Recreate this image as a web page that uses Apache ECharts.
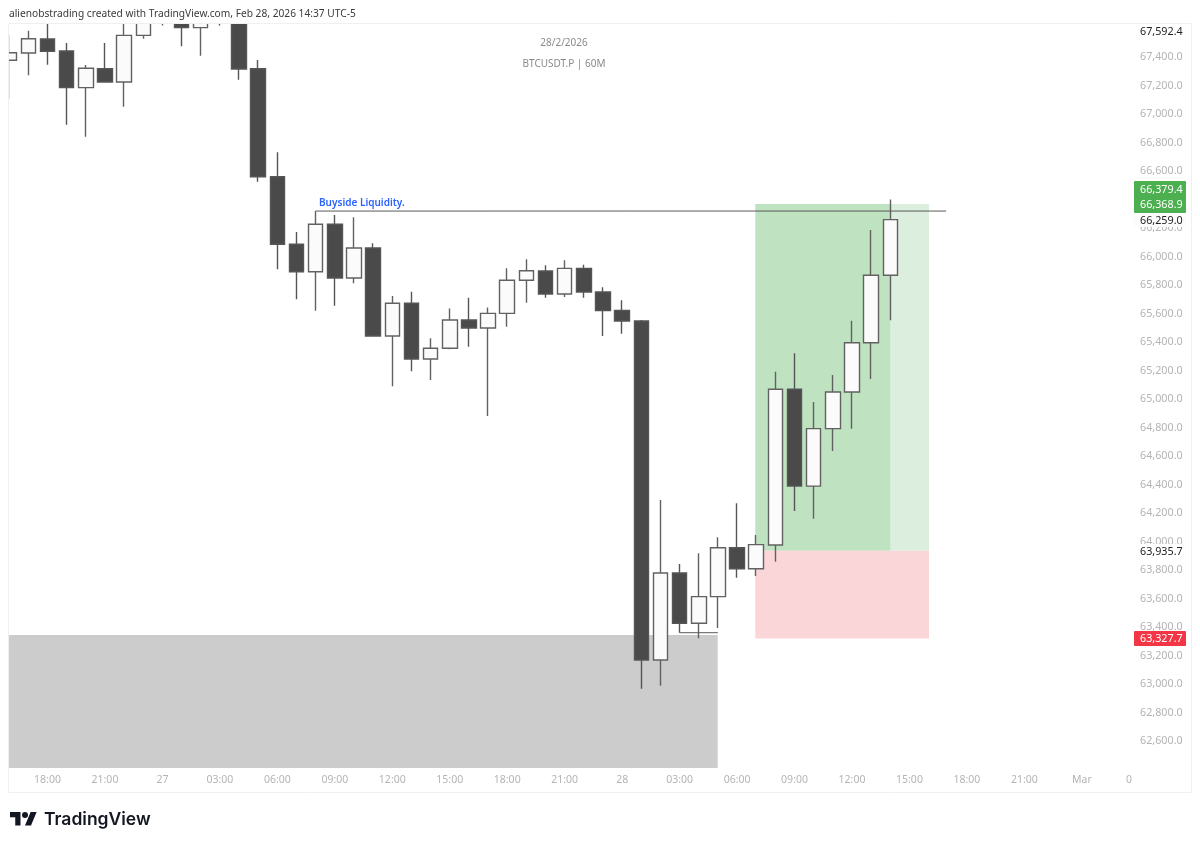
<!DOCTYPE html>
<html><head><meta charset="utf-8">
<style>html,body{margin:0;padding:0;background:#fff}#c{width:1200px;height:845px}</style>
<script src="https://cdn.jsdelivr.net/npm/echarts@6/dist/echarts.min.js"></script>
</head><body><div id="c"></div>
<script>
// hours counted from Feb 26 00:00; [hour, open, close, low, high]
const candleHours=[16,17,18,19,20,21,22,23,24,25,26,27,28,29,30,31,32,33,34,35,36,37,38,39,40,41,42,43,44,45,46,47,48,49,50,51,52,53,54,55,56,57,58,59,60,61,62];
const opens =[67377,67428,67526,67442,67185,67318,67225,67552,67800,67720,67606,67900,67750,67318,66560,66086,65893,66226,65849,66060,65442,65672,65281,65356,65554,65498,65601,65833,65898,65737,65917,65751,65622,65547,63168,63779,63426,63613,63956,63809,63975,65068,64389,64792,65049,65395,65868];
const closes=[67430,67528,67440,67185,67321,67225,67552,67800,67880,67606,67750,67780,67316,66560,66086,65893,66226,65849,66060,65442,65672,65281,65356,65554,65498,65601,65833,65900,65737,65917,65751,65620,65547,63168,63779,63426,63613,63956,63809,63978,65068,64389,64792,65049,65395,65868,66259];
const lows  =[67103,67272,67346,66925,66841,67220,67051,67528,67621,67475,67409,67621,67241,66525,65910,65700,65620,65655,65812,65437,65089,65194,65133,65350,65367,64881,65507,65676,65711,65716,65711,65442,65458,62967,62988,63360,63321,63393,63746,63758,63858,64214,64160,64635,64792,65140,65552];
const highs =[67554,67585,67640,67498,67344,67498,67680,67900,67950,67800,67850,67950,67850,67379,66731,66172,66319,66291,66275,66093,65723,65753,65426,65636,65711,65643,65917,65980,65938,65973,65942,65784,65693,65555,64291,63842,63917,64030,64268,64046,65192,65321,64979,65168,65550,66186,66400];

const yTicks=[62600,62800,63000,63200,63400,63600,63800,64000,64200,64400,64600,64800,65000,65200,65400,65600,65800,66000,66200,66400,66600,66800,67000,67200,67400];
const xTickHours=[18,21,24,27,30,33,36,39,42,45,48,51,54,57,60,63,66,69,72];
const xTickLabels=['18:00','21:00','27','03:00','06:00','09:00','12:00','15:00','18:00','21:00','28','03:00','06:00','09:00','12:00','15:00','18:00','21:00','Mar'];

const buysideLine=[[32,66319],[64.91,66319]];
const sweepLine=[[51,63360],[53,63360]];
const tradeStart=54.95, tradeNow=62.02, tradeEnd=64.02;
const targetPrice=66368.9, entryPrice=63935.7, stopEdge=63319;
const zoneHigh=63344, zoneStart=15.99, zoneEnd=52.99;
const yMin=62410.6, yMax=67631.6, xMin=15.99, xMax=74.67;

const FONT='"Noto Sans"';
const fmt=v=>v.toLocaleString('en-US');
const candleData=candleHours.map((h,i)=>[h,opens[i],closes[i],lows[i],highs[i]]);
const lineStyle={color:'#5a5a5a',width:1};
const priceText=(t,y,fill)=>({type:'text',x:1140,y:y,z:61,style:{text:t,fill:fill,font:'10.75px '+FONT,verticalAlign:'middle'}});
const logoInk='#131722';

const chart=echarts.init(document.getElementById('c'),null,{renderer:'canvas'});
chart.setOption({
  animation:false,
  backgroundColor:'#fff',
  grid:{left:9,right:67,top:24,bottom:77,show:false},
  xAxis:{type:'value',min:xMin,max:xMax,splitLine:{show:false},axisLine:{show:false},axisTick:{show:false},
    axisLabel:{customValues:xTickHours,color:'#b4b4b4',fontFamily:FONT,fontSize:10.5,margin:7,hideOverlap:false,
      formatter:v=>xTickLabels[xTickHours.indexOf(v)]??''}},
  yAxis:{type:'value',position:'right',min:yMin,max:yMax,scale:true,splitLine:{show:false},axisLine:{show:false},axisTick:{show:false},
    axisLabel:{customValues:yTicks,color:'#b4b4b4',fontFamily:FONT,fontSize:10.75,margin:7,hideOverlap:false,align:'left',padding:[4,0,0,0],formatter:v=>fmt(v)+'.0'}},
  series:[
    {type:'line',name:'zones',data:[],z:1,silent:true,
     markArea:{silent:true,z:1,data:[
       [{xAxis:zoneStart,yAxis:zoneHigh,itemStyle:{color:'#cccccc'}},{xAxis:zoneEnd,yAxis:yMin}],
       [{xAxis:tradeStart,yAxis:targetPrice,itemStyle:{color:'#bfe2c1'}},{xAxis:tradeNow,yAxis:entryPrice}],
       [{xAxis:tradeNow,yAxis:targetPrice,itemStyle:{color:'#dceedd'}},{xAxis:tradeEnd,yAxis:entryPrice}],
       [{xAxis:tradeStart,yAxis:entryPrice,itemStyle:{color:'#fbd6d9'}},{xAxis:tradeEnd,yAxis:stopEdge}]
     ]}},
    {type:'candlestick',name:'BTCUSDT.P',data:candleData,barWidth:15,z:3,clip:true,silent:true,
     itemStyle:{color:'#fbfbfb',color0:'#4a4a4a',borderColor:'#616161',borderColor0:'#555555',borderWidth:1.4}},
    {type:'line',name:'buyside',data:buysideLine,showSymbol:false,lineStyle,z:4,silent:true},
    {type:'line',name:'sweep',data:sweepLine,showSymbol:false,lineStyle,z:4,silent:true}
  ],
  graphic:{elements:[
    {type:'rect',z:50,shape:{x:0,y:0,width:1200,height:23.5},style:{fill:'#fff'},silent:true},
    {type:'rect',z:50,shape:{x:0,y:0,width:8.5,height:793},style:{fill:'#fff'},silent:true},
    {type:'rect',z:51,shape:{x:8.5,y:23.5,width:1183,height:769},style:{fill:'none',stroke:'#eff0f2',lineWidth:1},silent:true},
    {type:'text',z:52,x:9,y:14,style:{text:'alienobstrading created with TradingView.com, Feb 28, 2026 14:37 UTC-5',fill:'#3a3a3a',font:'10.2px '+FONT,verticalAlign:'middle'}},
    {type:'text',z:52,x:564,y:43,style:{text:'28/2/2026',fill:'#8a8a8a',font:'10px '+FONT,align:'center',verticalAlign:'middle'}},
    {type:'text',z:52,x:564,y:64,style:{text:'BTCUSDT.P | 60M',fill:'#8a8a8a',font:'10px '+FONT,align:'center',verticalAlign:'middle'}},
    {type:'text',z:52,x:319,y:203,style:{text:'Buyside Liquidity.',fill:'#2962ff',font:'600 10px '+FONT,verticalAlign:'middle'}},
    {type:'text',z:52,x:1126,y:780,style:{text:'0',fill:'#b4b4b4',font:'10.5px '+FONT,verticalAlign:'middle'}},
    {type:'rect',z:60,shape:{x:1134,y:24,width:52,height:14},style:{fill:'#fff'}},
    {type:'rect',z:60,shape:{x:1134,y:181,width:52,height:32,r:1},style:{fill:'#4caf50'}},
    {type:'rect',z:60,shape:{x:1134,y:213,width:52,height:14},style:{fill:'#fcfcfc'}},
    {type:'rect',z:60,shape:{x:1134,y:544,width:52,height:14},style:{fill:'#fff'}},
    {type:'rect',z:60,shape:{x:1134,y:631,width:52,height:15,r:1},style:{fill:'#f23645'}},
    priceText('67,592.4',32,'#222'),
    priceText('66,379.4',190,'#fff'),
    priceText('66,368.9',205,'#fff'),
    priceText('66,259.0',221,'#222'),
    priceText('63,935.7',552,'#222'),
    priceText('63,327.7',639,'#fff'),
    {type:'group',x:10,y:809,scaleX:0.75,scaleY:0.75,children:[
      {type:'polygon',shape:{points:[[0,4],[14,4],[14,22],[7,22],[7,11],[0,11]]},style:{fill:logoInk}},
      {type:'polygon',shape:{points:[[20,22],[27.5,4],[35.5,4],[28,22]]},style:{fill:logoInk}},
      {type:'circle',shape:{cx:20,cy:8,r:4},style:{fill:logoInk}}
    ]},
    {type:'text',x:44,y:820,style:{text:'TradingView',fill:logoInk,font:'600 17.5px Inter',verticalAlign:'middle'}}
  ]}
});
</script></body></html>
